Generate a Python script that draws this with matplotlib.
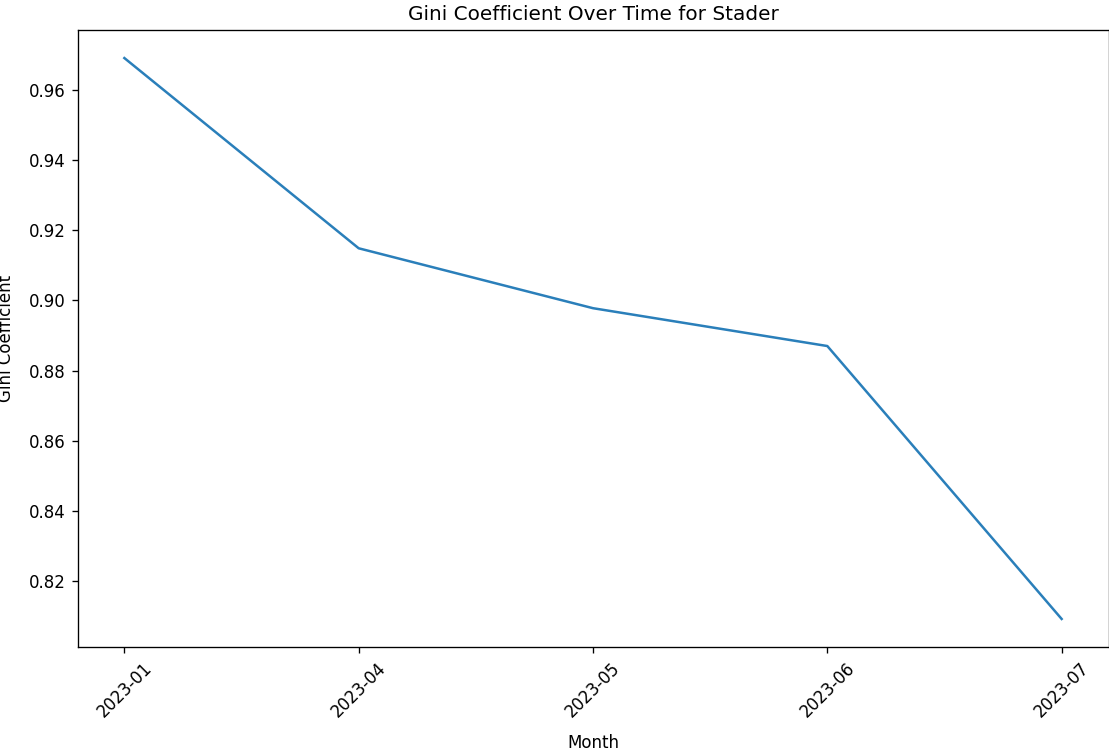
import matplotlib
matplotlib.use("Agg")
import matplotlib.pyplot as plt

months = ["2023-01", "2023-04", "2023-05", "2023-06", "2023-07"]
gini = [0.9692, 0.9149, 0.8978, 0.8870, 0.8091]

S = 1.2
plt.rcParams.update({
    "font.size": 10 * S,
    "axes.linewidth": 0.8 * S,
    "xtick.major.width": 0.8 * S,
    "ytick.major.width": 0.8 * S,
    "xtick.major.size": 3.5 * S,
    "ytick.major.size": 3.5 * S,
    "xtick.major.pad": 3.5 * S,
    "ytick.major.pad": 3.5 * S,
})

fig = plt.figure(figsize=(11.09, 7.55), dpi=100)
ax = fig.add_axes([77.5 / 1109, 1 - 647 / 755, 1031 / 1109, 617 / 755])
ax.plot(months, gini, color="#2a7fba", linewidth=1.5 * S)
ax.set_title("Gini Coefficient Over Time for Stader", fontsize=12 * S, pad=6 * S)
ax.set_xlabel("Month", labelpad=10)
ax.set_ylabel("Gini Coefficient")
ax.yaxis.set_label_coords((15 - 77.5) / 1031, 0.5)
ax.set_yticks([0.82, 0.84, 0.86, 0.88, 0.90, 0.92, 0.94, 0.96])
plt.setp(ax.get_xticklabels(), rotation=45)
fig.savefig("out.png", dpi=100)
